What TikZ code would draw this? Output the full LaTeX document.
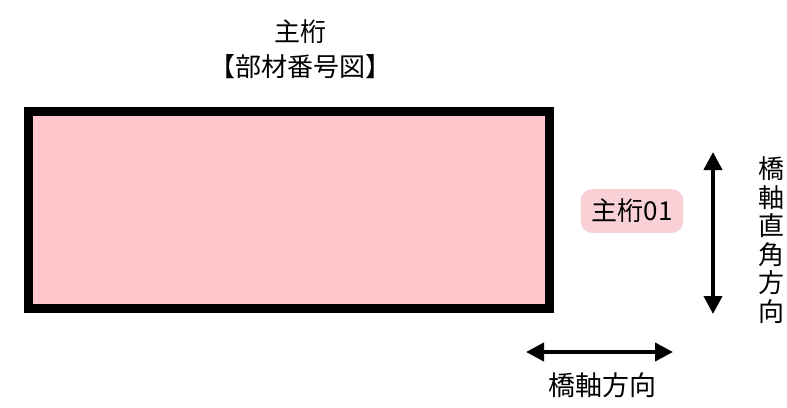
\documentclass[tikz,border=0pt]{standalone}
\usepackage{fontspec}
\setmainfont{Noto Sans CJK JP}
\usepackage{xcolor}
\usetikzlibrary{positioning,arrows.meta,calc}

\definecolor{girderpink}{RGB}{255,199,204}
\definecolor{tagpink}{RGB}{250,208,215}

\begin{document}
\begin{tikzpicture}[
    x=1pt, y=-1pt,
    lbl/.style={inner sep=0pt, font=\fontsize{26}{28}\selectfont},
    girder/.style={draw=black, fill=girderpink, line width=9pt,
                   minimum width=521pt, minimum height=197pt, inner sep=0pt},
    tag/.style={lbl, fill=tagpink, rounded corners=12pt, inner xsep=11pt, inner ysep=10pt},
    dir/.style={{Triangle[length=18pt,width=18pt]}-{Triangle[length=18pt,width=18pt]},
                line width=4pt},
  ]
  \useasboundingbox (0,0) rectangle (787,407);

  % title
  \node[lbl] (title) at (300,32) {主桁};
  \node[lbl] (sub)   at (300,67) {【部材番号図】};

  % girder
  \node[girder] (g01) at (288.5,209.5) {};
  \node[tag]    (g01tag) at (632,211) {主桁01};

  % directions
  \coordinate (vtop) at (713,152);
  \coordinate (vbot) at (713,314);
  \coordinate (hl)   at (526,352);
  \coordinate (hr)   at (673,352);
  \draw[dir] (vtop) -- (vbot);
  \draw[dir] (hl) -- (hr);
  \node[lbl, align=center, font=\fontsize{26}{28.5}\selectfont] (vdir) at (771,240)
       {橋\\軸\\直\\角\\方\\向};
  \node[lbl, font=\fontsize{27}{28}\selectfont] (hdir) at (602,385) {橋軸方向};
\end{tikzpicture}
\end{document}
